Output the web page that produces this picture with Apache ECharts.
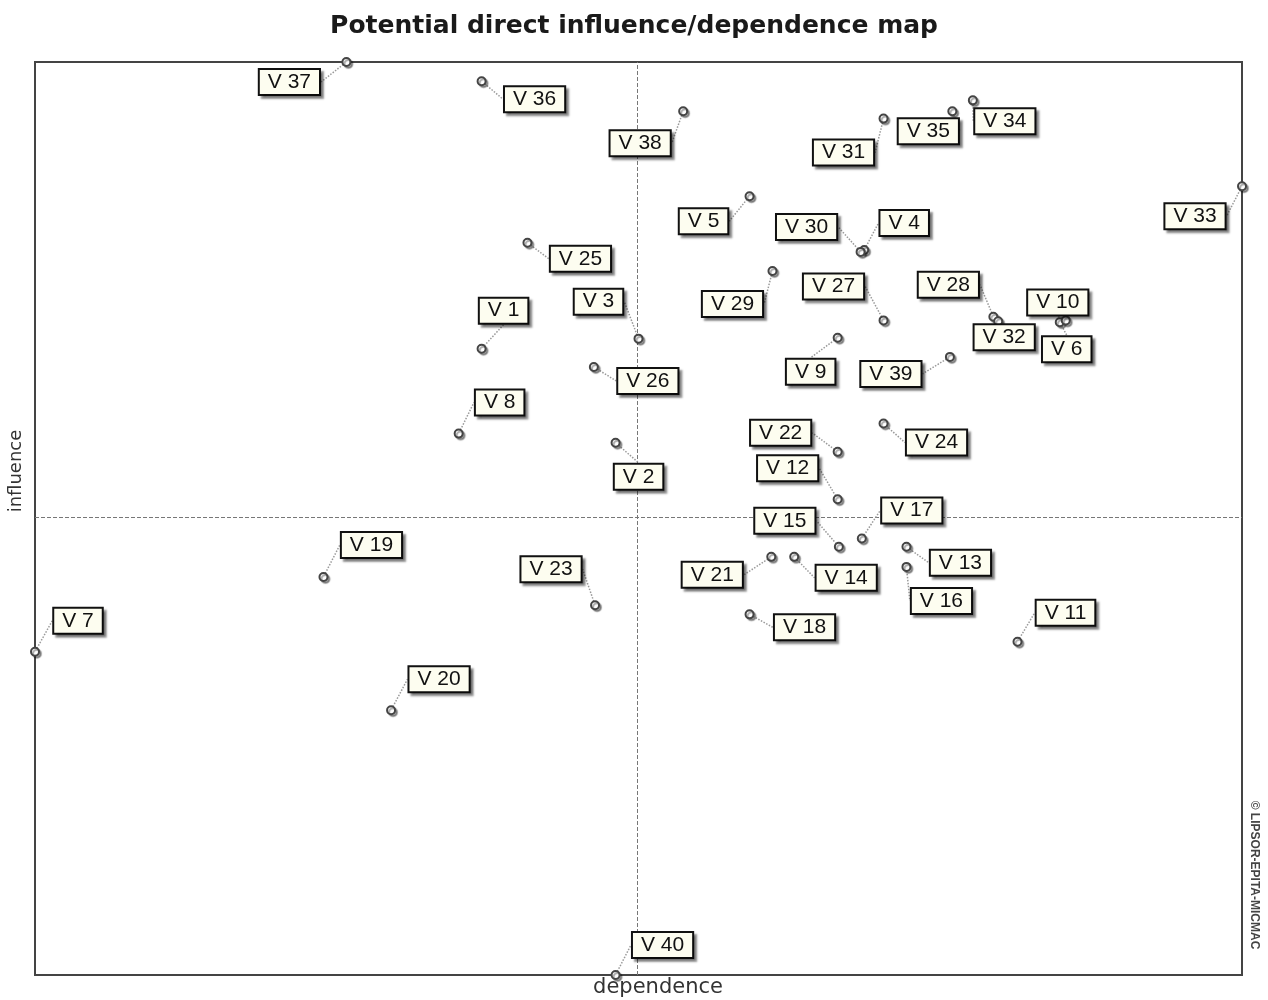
<!DOCTYPE html>
<html>
<head>
<meta charset="utf-8">
<script src="https://cdn.jsdelivr.net/npm/echarts@6/dist/echarts.min.js"></script>
<style>
html,body{margin:0;padding:0;background:#fff;}
#chart{width:1268px;height:1000px;}
</style>
</head>
<body>
<div id="chart"></div>
<script>
// ---- data (arbitrary 0-100 units) ----
const variables = ["V 1","V 2","V 3","V 4","V 5","V 6","V 7","V 8","V 9","V 10",
  "V 11","V 12","V 13","V 14","V 15","V 16","V 17","V 18","V 19","V 20",
  "V 21","V 22","V 23","V 24","V 25","V 26","V 27","V 28","V 29","V 30",
  "V 31","V 32","V 33","V 34","V 35","V 36","V 37","V 38","V 39","V 40"];
const dependence = [37.0,48.1,50.0,68.7,59.2,84.9,0.0,35.1,66.5,85.4,
  81.4,66.5,72.2,62.9,66.6,72.2,68.5,59.2,23.9,29.5,
  61.0,66.5,46.4,70.3,40.8,46.3,70.3,79.4,61.1,68.4,
  70.3,79.8,100.0,77.7,76.0,37.0,25.8,53.7,75.8,48.1];
const influence = [68.6,58.3,69.7,79.4,85.3,71.5,35.4,59.3,69.8,71.7,
  36.5,52.1,46.9,45.8,46.9,44.7,47.8,39.5,43.6,29.0,
  45.8,57.3,40.5,60.4,80.2,66.6,71.7,72.1,77.1,79.2,
  93.8,71.6,86.4,95.8,94.6,97.9,100.0,94.6,67.7,0.0];
const meanDependence = 49.9;
const meanInfluence = 50.1;

// ---- layout: label offsets in pixels (kept apart from the data) ----
const labelShift = {
  "V 1":[22,-38],"V 2":[23,34],"V 3":[-40,-37],"V 4":[40,-27],"V 5":[-46,25],
  "V 6":[7,27],"V 7":[43,-31],"V 8":[41,-31],"V 9":[-27,34],"V 10":[-8,-18],
  "V 11":[48,-29],"V 12":[-50,-31],"V 13":[54,16],"V 14":[52,21],"V 15":[-54,-26],
  "V 16":[35,34],"V 17":[50,-28],"V 18":[55,13],"V 19":[48,-32],"V 20":[48,-31],
  "V 21":[-59,18],"V 22":[-57,-19],"V 23":[-44,-36],"V 24":[53,19],"V 25":[53,16],
  "V 26":[54,14],"V 27":[-50,-34],"V 28":[-45,-32],"V 29":[-40,33],"V 30":[-54,-25],
  "V 31":[-40,34],"V 32":[6,16],"V 33":[-47,30],"V 34":[32,21],"V 35":[-24,20],
  "V 36":[53,18],"V 37":[-57,20],"V 38":[-43,32],"V 39":[-59,17],"V 40":[47,-30]
};

const points = variables.map((n,i)=>({name:n, value:[dependence[i], influence[i]]}));

const chart = echarts.init(document.getElementById('chart'), null, {renderer:'canvas'});
chart.setOption({
  animation:false,
  backgroundColor:'#ffffff',
  title:{
    text:'Potential direct influence/dependence map',
    left:'center', top:9,
    textStyle:{fontFamily:'DejaVu Sans, Verdana, sans-serif', fontSize:25, fontWeight:'bold', color:'#1a1a1a'}
  },
  grid:{left:35, right:26, top:62, bottom:25, show:true, borderColor:'#444', borderWidth:2, backgroundColor:'#fff'},
  xAxis:{type:'value', min:0, max:100, axisLine:{show:false}, axisTick:{show:false}, axisLabel:{show:false}, splitLine:{show:false}},
  yAxis:{type:'value', min:0, max:100, axisLine:{show:false}, axisTick:{show:false}, axisLabel:{show:false}, splitLine:{show:false}},
  graphic:[
    {type:'text', x:658, y:988, style:{text:'dependence', font:'21px "DejaVu Sans", Verdana, sans-serif', fill:'#333', align:'center', verticalAlign:'middle'}},
    {type:'text', x:16, y:471, rotation:Math.PI/2, style:{text:'influence', font:'18px "DejaVu Sans", Verdana, sans-serif', fill:'#333', align:'center', verticalAlign:'middle'}},
    {type:'text', x:1254, y:875, rotation:-Math.PI/2, style:{text:'© LIPSOR-EPITA-MICMAC', font:'bold 12px "Liberation Sans", Arial, sans-serif', fill:'#444', align:'center', verticalAlign:'middle'}}
  ],
  series:[{
    type:'scatter',
    data:points,
    symbol:'emptyCircle',
    symbolSize:8,
    itemStyle:{opacity:1, color:'#444', borderColor:'#444', borderWidth:1.6, shadowColor:'rgba(0,0,0,0.35)', shadowOffsetX:2, shadowOffsetY:2, shadowBlur:1},
    label:{
      show:true, position:'inside', formatter:'{b}', opacity:1,
      fontFamily:'Liberation Sans, Arial, sans-serif', fontSize:21, color:'#111',
      backgroundColor:'#fdfdf0', borderColor:'#111', borderWidth:2,
      padding:[2,8,1,8],
      shadowColor:'rgba(0,0,0,0.4)', shadowOffsetX:3, shadowOffsetY:3, shadowBlur:2
    },
    labelLine:{show:true, lineStyle:{color:'#999', width:1.5, type:'dotted'}},
    labelLayout:function(p){
      const s = labelShift[variables[p.dataIndex]];
      return {dx:s[0], dy:s[1]};
    },
    markLine:{
      silent:true, symbol:'none', label:{show:false},
      lineStyle:{color:'#777', type:'dashed', width:1},
      data:[{xAxis:meanDependence},{yAxis:meanInfluence}],
      z:1
    }
  }]
});
</script>
</body>
</html>
